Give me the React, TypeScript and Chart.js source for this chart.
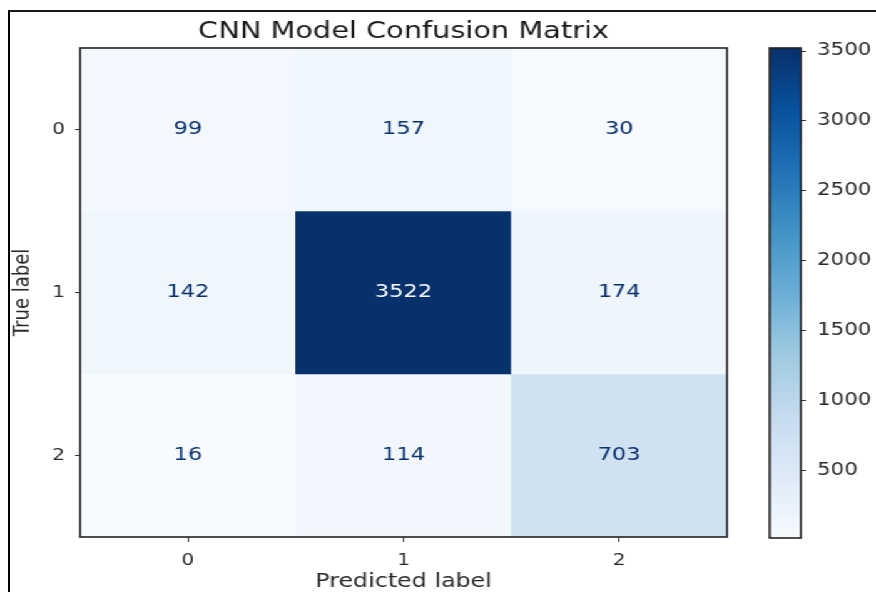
import React, { useEffect, useRef } from 'react';
import { Chart, registerables } from 'chart.js';

Chart.register(...registerables);

// ---- data ----
const chartTitle = 'CNN Model Confusion Matrix';
const xTitle = 'Predicted label';
const yTitle = 'True label';
const predictedLabels = ['0', '1', '2'];
const trueLabels = ['0', '1', '2'];
const row0 = [99, 157, 30];
const row1 = [142, 3522, 174];
const row2 = [16, 114, 703];
const matrix = [row0, row1, row2];
const colorbarTicks = [500, 1000, 1500, 2000, 2500, 3000, 3500];

// ---- style / layout ----
const FONT = '"DejaVu Sans", sans-serif';
const BLUES = ['#f7fbff', '#deebf7', '#c6dbef', '#9ecae1', '#6baed6', '#4292c6', '#2171b5', '#08519c', '#08306b'];
const OUT_W = 876;
const OUT_H = 592;
const INNER_W = 700;
const K = OUT_W / INNER_W;
const PLOT_LEFT = Math.round(80 / K);
const PLOT_RIGHT = Math.round(727 / K);
const PLOT_TOP = 48;
const PLOT_BOTTOM = 537;
const CB_LEFT = Math.round(770 / K);
const CB_RIGHT = Math.round(801 / K);
const CB_BOTTOM = 538;

const allValues = matrix.flat();
const vmin = Math.min(...allValues);
const vmax = Math.max(...allValues);
const thresh = (vmin + vmax) / 2;

function hexToRgb(h: string) {
  const n = parseInt(h.slice(1), 16);
  return [(n >> 16) & 255, (n >> 8) & 255, n & 255];
}
function blues(t: number) {
  const tt = Math.max(0, Math.min(1, t));
  const n = BLUES.length - 1;
  const p = tt * n;
  const i = Math.min(Math.floor(p), n - 1);
  const f = p - i;
  const a = hexToRgb(BLUES[i]);
  const b = hexToRgb(BLUES[i + 1]);
  const c = a.map((v, k) => Math.round(v + (b[k] - v) * f));
  return `rgb(${c[0]},${c[1]},${c[2]})`;
}

const framePlugin = {
  id: 'frame',
  afterDraw(chart: any) {
    const { ctx, chartArea } = chart;
    ctx.save();
    ctx.strokeStyle = '#222';
    ctx.lineWidth = 1.6;
    ctx.strokeRect(chartArea.left, chartArea.top, chartArea.right - chartArea.left, chartArea.bottom - chartArea.top);
    ctx.restore();
  },
};

const cellTextPlugin = {
  id: 'cellText',
  afterDatasetsDraw(chart: any) {
    const ctx = chart.ctx;
    ctx.save();
    ctx.font = `18px ${FONT}`;
    ctx.textAlign = 'center';
    ctx.textBaseline = 'middle';
    matrix.forEach((row, r) => {
      const meta = chart.getDatasetMeta(r);
      meta.data.forEach((el: any, c: number) => {
        const { x, y, base } = el.getProps(['x', 'y', 'base'], true);
        const v = row[c];
        ctx.fillStyle = v > thresh ? BLUES[0] : BLUES[BLUES.length - 1];
        ctx.fillText(String(v), x, (y + base) / 2);
      });
    });
    ctx.restore();
  },
};

export default function App() {
  const mainRef = useRef<HTMLCanvasElement>(null);
  const cbRef = useRef<HTMLCanvasElement>(null);

  useEffect(() => {
    Chart.defaults.font.family = FONT;
    const main = new Chart(mainRef.current as HTMLCanvasElement, {
      type: 'bar',
      data: {
        labels: predictedLabels,
        datasets: matrix.map((row, r) => ({
          label: trueLabels[r],
          data: row.map(() => [r, r + 1]),
          backgroundColor: row.map((v) => blues((v - vmin) / (vmax - vmin))),
          borderWidth: 0,
          grouped: false,
          categoryPercentage: 1,
          barPercentage: 1,
        })),
      } as any,
      options: {
        responsive: false,
        animation: false,
        events: [],
        layout: { padding: { left: 0, right: INNER_W - PLOT_RIGHT, top: 0, bottom: 0 } },
        plugins: {
          legend: { display: false },
          tooltip: { enabled: false },
          title: {
            display: true,
            fullSize: false,
            text: chartTitle,
            color: '#1a1a1a',
            font: { size: 23, weight: 'normal', family: FONT },
            padding: { top: 18, bottom: PLOT_TOP - 18 - 23 * 1.2 },
          },
        },
        scales: {
          x: {
            type: 'category',
            offset: true,
            grid: { display: true, drawOnChartArea: false, drawTicks: true, tickLength: 5, offset: false, color: '#333' },
            border: { display: false },
            ticks: { color: '#2a2a2a', font: { size: 16 }, padding: 9, maxRotation: 0 },
            title: { display: true, text: xTitle, color: '#2a2a2a', font: { size: 19 }, padding: { top: 0, bottom: -1 } },
            afterFit: (s: any) => { s.height = OUT_H - PLOT_BOTTOM; },
          },
          y: {
            type: 'linear',
            min: 0,
            max: trueLabels.length,
            reverse: true,
            afterBuildTicks: (s: any) => { s.ticks = trueLabels.map((_, i) => ({ value: i + 0.5 })); },
            grid: { display: true, drawOnChartArea: false, drawTicks: true, tickLength: 4, color: '#333' },
            border: { display: false },
            ticks: { color: '#2a2a2a', font: { size: 16 }, padding: 8, callback: (v: any) => trueLabels[Math.floor(Number(v))] },
            title: { display: true, text: yTitle, color: '#2a2a2a', font: { size: 18 }, padding: { top: 8, bottom: 0 } },
            afterFit: (s: any) => { s.width = PLOT_LEFT; },
          },
        },
      } as any,
      plugins: [cellTextPlugin, framePlugin],
    });

    const cb = new Chart(cbRef.current as HTMLCanvasElement, {
      type: 'bar',
      data: {
        labels: [''],
        datasets: [{
          data: [[vmin, vmax]],
          backgroundColor: (ctx: any) => {
            const chart = ctx.chart;
            const ys = chart.scales && chart.scales.y;
            if (!chart.chartArea || !ys) return BLUES[0];
            const g = chart.ctx.createLinearGradient(0, ys.getPixelForValue(vmin), 0, ys.getPixelForValue(vmax));
            BLUES.forEach((c, i) => g.addColorStop(i / (BLUES.length - 1), c));
            return g;
          },
          borderWidth: 0,
          categoryPercentage: 1,
          barPercentage: 1,
        }],
      } as any,
      options: {
        responsive: false,
        animation: false,
        events: [],
        layout: { padding: { left: CB_LEFT, right: 0, top: PLOT_TOP, bottom: OUT_H - CB_BOTTOM } },
        plugins: { legend: { display: false }, tooltip: { enabled: false }, title: { display: false } },
        scales: {
          x: { display: false },
          y: {
            position: 'right',
            min: vmin,
            max: vmax,
            afterBuildTicks: (s: any) => { s.ticks = colorbarTicks.map((v) => ({ value: v })); },
            grid: { display: true, drawOnChartArea: false, drawTicks: true, tickLength: 4, color: '#333' },
            border: { display: false },
            ticks: { color: '#2a2a2a', font: { size: 17 }, padding: 9, callback: (v: any) => String(v) },
            afterFit: (s: any) => { s.width = INNER_W - CB_RIGHT; },
          },
        },
      } as any,
      plugins: [framePlugin],
    });

    return () => { main.destroy(); cb.destroy(); };
  }, []);

  return (
    <div style={{ position: 'fixed', left: 0, top: 0, width: OUT_W, height: OUT_H, overflow: 'hidden', background: '#fff' }}>
      <div style={{ position: 'absolute', left: 0, top: 0, width: INNER_W, height: OUT_H, transform: `scaleX(${K})`, transformOrigin: '0 0' }}>
        <canvas ref={mainRef} width={INNER_W} height={OUT_H} style={{ position: 'absolute', left: 0, top: 0, width: INNER_W, height: OUT_H }} />
        <canvas ref={cbRef} width={INNER_W} height={OUT_H} style={{ position: 'absolute', left: 0, top: 0, width: INNER_W, height: OUT_H }} />
      </div>
      <div style={{ position: 'absolute', left: 8, top: 10, width: 900, height: 620, borderLeft: '2px solid #000', borderTop: '2px solid #1a1a1a' }} />
    </div>
  );
}
